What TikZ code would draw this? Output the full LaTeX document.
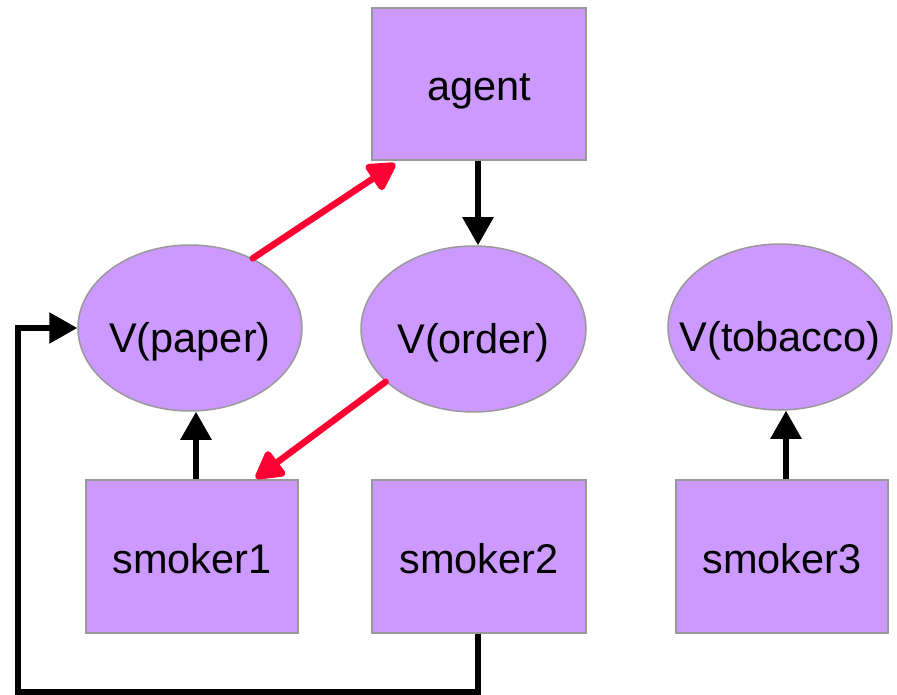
\documentclass[tikz,border=0pt]{standalone}
\usepackage{fontspec}
\setmainfont{Liberation Sans}
\usetikzlibrary{arrows.meta,shapes.geometric}
\definecolor{boxfill}{HTML}{CC99FF}
\definecolor{boxline}{HTML}{999999}
\definecolor{hot}{HTML}{FF0033}
\tikzset{
  proc/.style={rectangle, draw=boxline, fill=boxfill, line width=1.5pt,
    inner sep=0pt, text height=34pt, text depth=0pt,
    font=\fontsize{41.5}{50}\selectfont},
  var/.style={ellipse, draw=boxline, fill=boxfill, line width=1.5pt,
    inner sep=0pt, minimum width=224pt, minimum height=166pt,
    text height=49pt, text depth=0pt,
    font=\fontsize{41.5}{50}\selectfont},
  blk/.style={draw=black, line width=5.5pt, miter limit=10,
    -{Triangle[length=28pt,width=30pt]}},
  redarr/.style={draw=hot, line width=6.5pt, line cap=round,
    -{Triangle[length=31pt,width=33pt,round]}},
}
\begin{document}
\begin{tikzpicture}[x=1pt,y=-1pt]
\useasboundingbox (0,0) rectangle (897,695);

% processes
\node[proc, minimum width=214pt, minimum height=152pt] (agent) at (479,84) {agent};
\node[proc, minimum width=212pt, minimum height=153pt] (smoker1) at (192,556.5) {smoker1};
\node[proc, minimum width=214pt, minimum height=153pt] (smoker2) at (479,556.5) {smoker2};
\node[proc, minimum width=212pt, minimum height=153pt] (smoker3) at (782,556.5) {smoker3};

% shared variables
\node[var] (vpaper) at (190,328) {\makebox[0pt]{V(paper)}};
\node[var, minimum width=225pt] (vorder) at (473.5,329) {\makebox[0pt]{V(order)}};
\node[var] (vtobacco) at (780,327) {\makebox[0pt]{V(tobacco)}};

% black connectors
\draw[blk] ([xshift=-1pt]agent.south) -- ([xshift=-1pt]agent.south |- vorder.north);
\draw[blk] ([xshift=4pt]smoker1.north) -- ([xshift=4pt]smoker1.north |- vpaper.south);
\draw[blk] ([xshift=4pt]smoker3.north) -- ([xshift=4pt]smoker3.north |- vtobacco.south);
\coordinate (loop) at (18,692);
\draw[blk] ([xshift=-1pt]smoker2.south) |- (loop) |- (vpaper.west);

% red connectors
\draw[redarr] (vpaper.48) -- ([xshift=24pt,yshift=-3pt]agent.south west);
\draw[redarr] (vorder.211) -- ([xshift=-43pt,yshift=1pt]smoker1.north east);
\end{tikzpicture}
\end{document}
